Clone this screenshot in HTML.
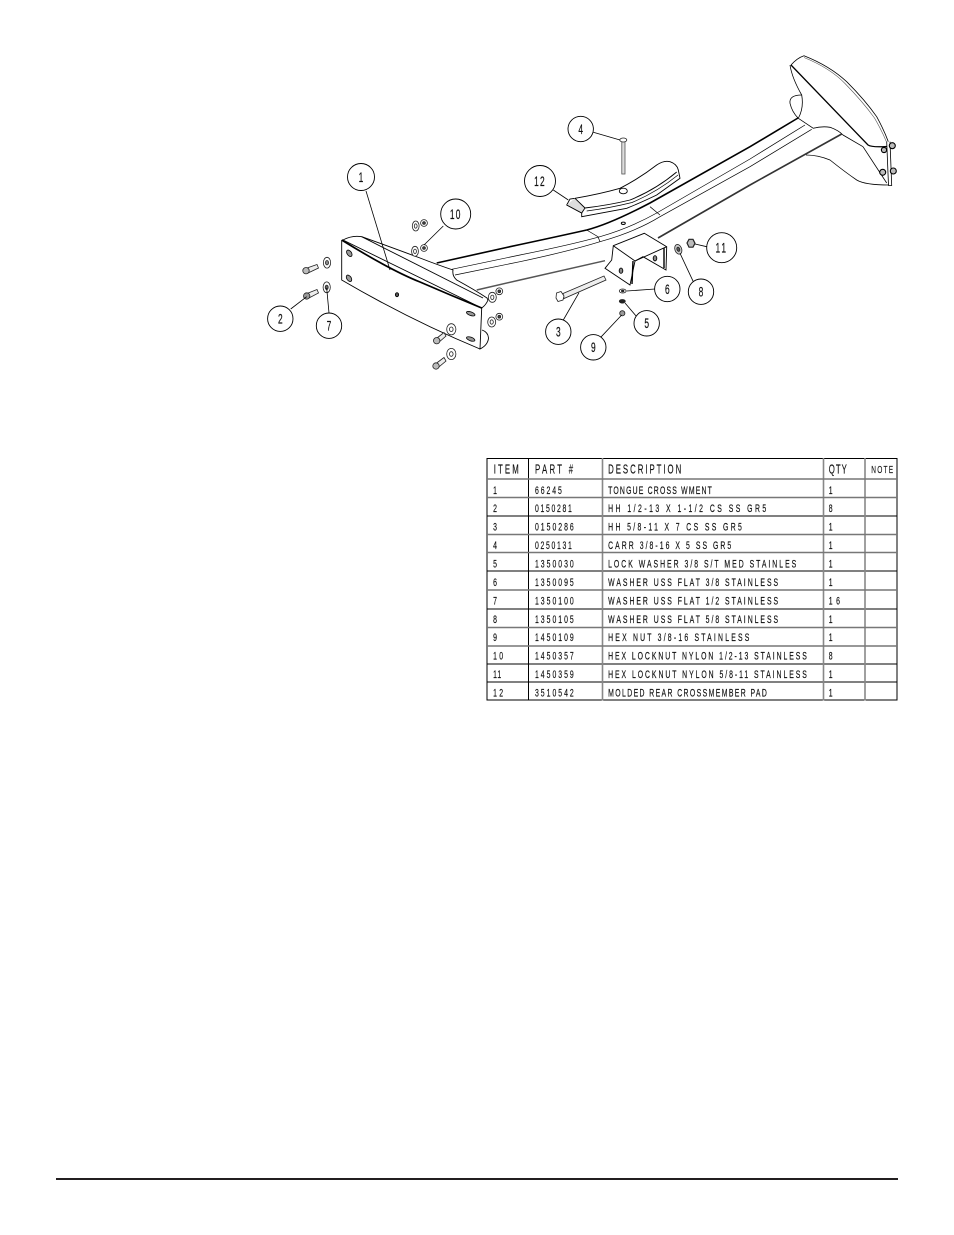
<!DOCTYPE html>
<html><head><meta charset="utf-8"><style>
html,body{margin:0;padding:0;background:#fff}
svg{display:block}
text{font-family:"Liberation Sans",sans-serif;fill:#111}
.t text{font-size:11px;stroke:#111;stroke-width:.2}
.h text{font-size:12.5px;stroke:#111;stroke-width:.15}
.b text{font-size:14px;text-anchor:middle;stroke:#111;stroke-width:.2}
</style></head><body>
<svg width="954" height="1235" viewBox="0 0 954 1235" xmlns="http://www.w3.org/2000/svg">
<rect width="954" height="1235" fill="#fff"/>
<rect x="56" y="1178" width="842" height="2" fill="#231f20"/>

<!-- Tube -->
<g fill="none" stroke="#000" stroke-width="1">
<path d="M436.7 263 L510 246.7 Q560 236 586.7 230 Q610 224 650 203 L750 146.7 L798 118" stroke-width="1.6"/>
<path d="M451.7 269.3 L520 255 Q570 245 600 236.7 Q630 228 656.7 213 L750 159 L805 125" stroke-width=".7"/>
<path d="M455 275 L520 261.7 Q570 251 600 241.7 Q635 232 660 216.7 L750 166.7 L811.7 129.3" stroke-width=".7"/>
<path d="M476.7 290 L520 280 L605 260.7" stroke-width="1.5" stroke="#555"/>
<path d="M658 238 L750 185 L841.7 134" stroke-width="1.6" stroke="#333"/>
<path d="M586.7 230 L598 236.7 L600 241.7 M650 206.7 L660 215" stroke-width=".7"/>
<ellipse cx="623.3" cy="223.3" rx="2" ry="1.2"/>
</g>

<!-- Far end -->
<g fill="none" stroke="#000" stroke-width=".8">
<path d="M791 65 Q797 58 804 55.7 Q830 66 846.7 81.7 Q865 100 876.7 116.7 Q884 130 888.3 141.7" fill="#fff"/>
<path d="M804 57.5 Q830 68 845 83.5 Q863 102 874.5 118 Q882 131 886.5 142" stroke-width=".6" stroke="#555"/>
<path d="M790 65 Q792 78 801.7 95 Q804 108 798.3 118.3 L813.3 128.3 Q822 126 830 127.3 Q838 130 843 135 L863 146.7"/>
<path d="M801.7 95 Q789 95 790 103.3 Q792 112 798.3 118.3"/>
<path d="M791 65 L868 145 Q872 147.5 886.7 146.5" stroke-width="1.3"/>
<path d="M863 146.7 L886.7 183"/>
<path d="M806 155 Q818 155 830 160 Q845 172 856.7 180 Q865 185 889 185"/>
<path d="M886.7 141.7 L888.5 185.5 L891.7 185.5 L890 141.7"/>
<g fill="#bbb" stroke-width="1.1"><circle cx="892.3" cy="145.7" r="3"/><circle cx="893.3" cy="171" r="3"/><circle cx="884" cy="150" r="2.6"/><circle cx="882.7" cy="172.3" r="3"/></g>
</g>

<!-- Plate -->
<g fill="none" stroke="#000" stroke-width=".9">
<path d="M343 240 Q352 235 361.7 236.7 Q385 245 420 258 Q438 265 453 270 Q452 276 456.7 280 Q475 290 487 298 L488 300 Q486 305 481.7 308 L343 240Z" fill="#fff"/>
<path d="M361.7 236.7 L483 298"/>
<path d="M481.7 308 L480 349 Q488 345 488.5 338 Q488 332 482 330"/>
<path d="M341.7 240 L341.7 280 Q410 320 480 349"/>
<path d="M341.7 240 Q390 270 420 282 Q450 295 481.7 308" stroke-width="1.7"/>
<ellipse cx="397" cy="294.7" rx="1.6" ry="2" fill="#555"/>
<g stroke-width=".8"><ellipse cx="349.3" cy="253.3" rx="2.2" ry="3.6" transform="rotate(-35 349.3 253.3)" fill="#999"/><ellipse cx="349" cy="278.3" rx="2.2" ry="3.6" transform="rotate(-35 349 278.3)" fill="#999"/><ellipse cx="470.7" cy="313.7" rx="4.5" ry="1.8" transform="rotate(20 470.7 313.7)" fill="#999"/><ellipse cx="470.7" cy="339" rx="4.5" ry="1.8" transform="rotate(20 470.7 339)" fill="#999"/></g>
</g>

<!-- Pad 12 -->
<g fill="none" stroke="#000" stroke-width=".9">
<path d="M566.7 205 L570 199 L575 198.3 Q600 194 620 188.3 Q640 178 656.7 165 Q664 160 670 161.7 Q677 164 678.3 170 L680 178.3 L656.7 195 Q640 203 626.7 208.3 L581.7 216.7 L581.7 213 Z" fill="#fff"/>
<path d="M585 208 Q610 205 630 200 Q655 190 676.7 172" />
<path d="M586.7 211 Q610 208 632 202.5 Q657 192 678 175" stroke-width=".7"/>
<path d="M566.7 205 L581.7 213 L585 208 L575 198.3" fill="#ddd"/>
<ellipse cx="623.3" cy="191" rx="4" ry="2.8"/>
</g>

<!-- Carriage bolt 4 -->
<g fill="#ddd" stroke="#555" stroke-width=".8">
<rect x="621.8" y="141" width="3.2" height="33"/>
<ellipse cx="623.3" cy="140" rx="3.5" ry="2" fill="#fff" stroke="#222"/>
</g>

<!-- Bracket -->
<g fill="#fff" stroke="#000" stroke-width=".9">
<path d="M613.3 245.7 L644.3 233.3 L666.7 246.7 L666 270 L643 256.7 L635 261 L630 285 L605 268.3 L611.7 260 Z"/>
<path d="M613.3 245.7 L635 261 L666.7 246.7" fill="none"/>
<path d="M633 261 L632 284 M664 248 L664 268" fill="none" stroke-width="1.4"/>
<ellipse cx="621" cy="270.7" rx="1.8" ry="2.6" fill="#888"/>
<ellipse cx="655" cy="258.3" rx="1.8" ry="2.6" fill="#888"/>
</g>

<!-- Bolt 3 and small hardware -->
<g fill="#fff" stroke="#222" stroke-width=".8">
<path d="M563 293.5 L604 276 L606 280 L564 298.5 Z" fill="#eee"/>
<path d="M556.5 293 L561 291.5 L564 296 L563 300 L558 301.5 L556 298 Z"/>
<ellipse cx="622.7" cy="291" rx="3.4" ry="2"/>
<ellipse cx="622.7" cy="291" rx="1.3" ry=".8" fill="#333"/>
<ellipse cx="622.3" cy="301.3" rx="3" ry="1.8" fill="#222"/>
<circle cx="622.3" cy="313.3" r="2.6" fill="#999"/>
<ellipse cx="678.3" cy="249.3" rx="3.4" ry="5" fill="#ccc" transform="rotate(-20 678.3 249.3)"/>
<ellipse cx="678.3" cy="249.3" rx="1.4" ry="2.2" fill="#555" transform="rotate(-20 678.3 249.3)"/>
<polygon points="687,243 689,239.3 693,239.3 695,243.3 693,247.2 689,247.2" stroke-width="1.2" fill="#bbb"/>
</g>

<!-- Left bolts -->
<g fill="#eee" stroke="#222" stroke-width=".8">
<path d="M307 268 L317 264.5 L318.5 268 L308 273Z"/><circle cx="306" cy="270.7" r="3.2" fill="#bbb"/>
<path d="M307 293.5 L317 289.5 L318.5 293 L308 298.5Z"/><circle cx="306.7" cy="296" r="3.2" fill="#999"/>
<path d="M437 338 L444 332.5 L446 336 L438 343Z"/><circle cx="436.7" cy="340.7" r="3.2" fill="#bbb"/>
<path d="M436 363.5 L444 357.5 L446 361 L437 368.5Z"/><circle cx="436" cy="366" r="3.2" fill="#bbb"/>
</g>
<!-- Washers / nuts -->
<g fill="#fff" stroke="#222" stroke-width=".8">
<ellipse cx="327" cy="262.7" rx="3.6" ry="5.4"/><ellipse cx="327" cy="262.7" rx="1.5" ry="2.2" fill="#888"/>
<ellipse cx="326.7" cy="287.3" rx="3.6" ry="5.4"/><ellipse cx="326.7" cy="287.3" rx="1.5" ry="2.2" fill="#666"/>
<ellipse cx="451.3" cy="329.3" rx="4.6" ry="5.6"/><ellipse cx="451.3" cy="329.3" rx="1.8" ry="2.3"/>
<ellipse cx="451.3" cy="354" rx="4.6" ry="5.6"/><ellipse cx="451.3" cy="354" rx="1.8" ry="2.3"/>
<ellipse cx="415.7" cy="226" rx="3.4" ry="5"/><ellipse cx="415.7" cy="226" rx="1.4" ry="2.2"/>
<ellipse cx="415" cy="251.3" rx="3.4" ry="5"/><ellipse cx="415" cy="251.3" rx="1.4" ry="2.2"/>
<circle cx="424" cy="223" r="3.4"/><circle cx="424" cy="223" r="1.4" fill="#444"/>
<circle cx="424" cy="248" r="3.4"/><circle cx="424" cy="248" r="1.4" fill="#444"/>
<ellipse cx="492.3" cy="297.3" rx="4" ry="5"/><ellipse cx="492.3" cy="297.3" rx="1.6" ry="2.2"/>
<ellipse cx="491.7" cy="322" rx="4" ry="5"/><ellipse cx="491.7" cy="322" rx="1.6" ry="2.2"/>
<circle cx="499.3" cy="291.3" r="3.4"/><circle cx="499.3" cy="291.3" r="1.4" fill="#444"/>
<circle cx="499.3" cy="316.7" r="3.4"/><circle cx="499.3" cy="316.7" r="1.4" fill="#444"/>
</g>

<!-- Leaders -->
<g fill="none" stroke="#000" stroke-width=".8">
<path d="M366 191 L390 270"/>
<path d="M443.3 226 L424 245"/>
<path d="M290.7 309 L306.7 296.7"/>
<path d="M329 313 L326.7 288"/>
<path d="M593.3 132.3 L620 140"/>
<path d="M553.3 190 L568.3 200"/>
<path d="M706.7 246.7 L695 244"/>
<path d="M655 289 L626.7 291"/>
<path d="M693.3 281.7 L680 253.3"/>
<path d="M636.7 316.7 L625 303"/>
<path d="M563.3 320 L579 292.7"/>
<path d="M600.7 337.3 L621.7 315"/>
</g>

<!-- Balloons -->
<g fill="#fff" stroke="#000" stroke-width=".9">
<circle cx="361" cy="177" r="13.5"/>
<circle cx="540" cy="181" r="15.5"/>
<circle cx="580.7" cy="129" r="12.7"/>
<circle cx="455.7" cy="214" r="15"/>
<circle cx="721.7" cy="247.7" r="15"/>
<circle cx="667.3" cy="289" r="12.7"/>
<circle cx="701" cy="291.7" r="12.7"/>
<circle cx="646.7" cy="323.3" r="12.7"/>
<circle cx="558.3" cy="331.7" r="12.7"/>
<circle cx="593.3" cy="347.3" r="12.7"/>
<circle cx="280.3" cy="318.7" r="12.7"/>
<circle cx="329" cy="325.7" r="12.7"/>
</g>
<g class="b">
<text transform="translate(361 182) scale(.6 1)">1</text>
<text transform="translate(540 186) scale(.6 1)" letter-spacing="2">12</text>
<text transform="translate(580.7 134) scale(.6 1)">4</text>
<text transform="translate(455.7 219) scale(.6 1)" letter-spacing="2">10</text>
<text transform="translate(721.7 252.5) scale(.6 1)" letter-spacing="3">11</text>
<text transform="translate(667.3 294) scale(.6 1)">6</text>
<text transform="translate(701 296.5) scale(.6 1)">8</text>
<text transform="translate(646.7 328) scale(.6 1)">5</text>
<text transform="translate(558.3 336.5) scale(.6 1)">3</text>
<text transform="translate(593.3 352) scale(.6 1)">9</text>
<text transform="translate(280.3 323.5) scale(.6 1)">2</text>
<text transform="translate(329 330.5) scale(.6 1)">7</text>
</g>

<!-- Table -->
<g fill="none" stroke="#000" stroke-width="1">
<path d="M487 458.5 H897 M487 516 H897 M487 571 H897 M487 609 H897 M487 664 H897 M487 682 H897 M487 700 H897"/>
<path d="M487 458 V700.5 M528.5 458 V700.5 M897 458 V700.5"/>
<path d="M602.5 458 V700.5 M823.5 458 V700.5 M865 458 V700.5" stroke="#888" stroke-width="1.6"/>
<path d="M487 479 H897 M487 497.5 H897 M487 534.5 H897 M487 552.5 H897 M487 590 H897 M487 627.5 H897 M487 646 H897" stroke="#777" stroke-width="1.5"/>
</g>
<g class="h" transform="scale(.625 1)">
<text x="790" y="473.5" textLength="40">ITEM</text>
<text x="856" y="473.5" textLength="61">PART #</text>
<text x="973" y="473.5" textLength="117">DESCRIPTION</text>
<text x="1326" y="473.5" textLength="29">QTY</text>
<text x="1394" y="473" textLength="35" style="font-size:10.5px">NOTE</text>
</g>
<g class="t" transform="scale(.625 1)">
<text x="789" y="494">1</text><text x="856" y="494" textLength="43">66245</text><text x="973" y="494" textLength="166">TONGUE CROSS WMENT</text><text x="1326" y="494">1</text>
<text x="789" y="512">2</text><text x="856" y="512" textLength="59">0150281</text><text x="973" y="512" textLength="253">HH 1/2-13 X 1-1/2 CS SS GR5</text><text x="1326" y="512">8</text>
<text x="789" y="530.5">3</text><text x="856" y="530.5" textLength="62">0150286</text><text x="973" y="530.5" textLength="214">HH 5/8-11 X 7 CS SS GR5</text><text x="1326" y="530.5">1</text>
<text x="789" y="549">4</text><text x="856" y="549" textLength="59">0250131</text><text x="973" y="549" textLength="197">CARR 3/8-16 X 5 SS GR5</text><text x="1326" y="549">1</text>
<text x="789" y="567.5">5</text><text x="856" y="567.5" textLength="62">1350030</text><text x="973" y="567.5" textLength="301">LOCK WASHER 3/8 S/T MED STAINLES</text><text x="1326" y="567.5">1</text>
<text x="789" y="586">6</text><text x="856" y="586" textLength="62">1350095</text><text x="973" y="586" textLength="272">WASHER USS FLAT 3/8 STAINLESS</text><text x="1326" y="586">1</text>
<text x="789" y="604.5">7</text><text x="856" y="604.5" textLength="62">1350100</text><text x="973" y="604.5" textLength="272">WASHER USS FLAT 1/2 STAINLESS</text><text x="1326" y="604.5" textLength="18">16</text>
<text x="789" y="623">8</text><text x="856" y="623" textLength="62">1350105</text><text x="973" y="623" textLength="272">WASHER USS FLAT 5/8 STAINLESS</text><text x="1326" y="623">1</text>
<text x="789" y="641">9</text><text x="856" y="641" textLength="62">1450109</text><text x="973" y="641" textLength="226">HEX NUT 3/8-16 STAINLESS</text><text x="1326" y="641">1</text>
<text x="789" y="659.5" textLength="16">10</text><text x="856" y="659.5" textLength="62">1450357</text><text x="973" y="659.5" textLength="318">HEX LOCKNUT NYLON 1/2-13 STAINLESS</text><text x="1326" y="659.5">8</text>
<text x="789" y="678" textLength="13">11</text><text x="856" y="678" textLength="62">1450359</text><text x="973" y="678" textLength="318">HEX LOCKNUT NYLON 5/8-11 STAINLESS</text><text x="1326" y="678">1</text>
<text x="789" y="696.5" textLength="16">12</text><text x="856" y="696.5" textLength="62">3510542</text><text x="973" y="696.5" textLength="254">MOLDED REAR CROSSMEMBER PAD</text><text x="1326" y="696.5">1</text>
</g>
</svg>
</body></html>
